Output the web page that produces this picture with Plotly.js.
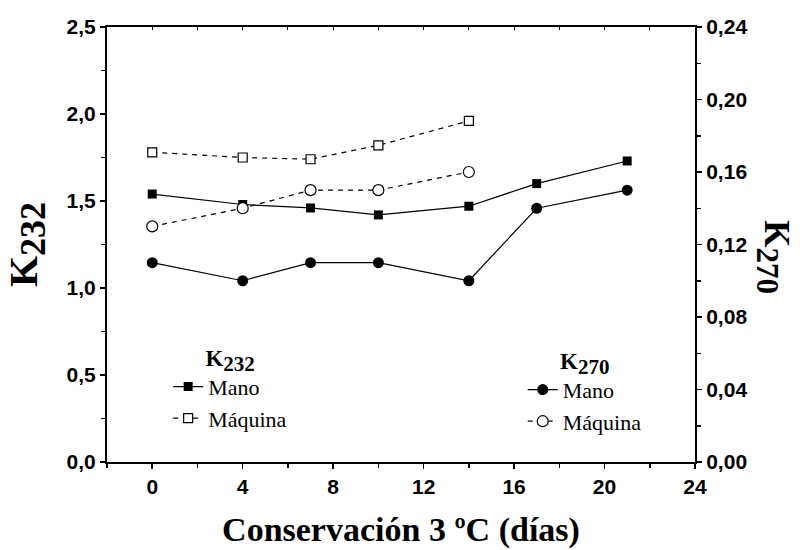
<!DOCTYPE html>
<html>
<head>
<meta charset="utf-8">
<script src="https://cdn.plot.ly/plotly-3.0.1.min.js"></script>
<style>html,body{margin:0;padding:0;background:#fff;}#chart{width:800px;height:550px;}</style>
</head>
<body>
<div id="chart"></div>
<script>
// Data (days of storage at 3 ºC)
const daysMano = [0, 4, 7, 10, 14, 17, 21];
const daysMaquina = [0, 4, 7, 10, 14];
const k232Mano = [1.54, 1.48, 1.46, 1.42, 1.47, 1.60, 1.73];
const k232Maquina = [1.78, 1.75, 1.74, 1.82, 1.96];
const k270Mano = [0.11, 0.10, 0.11, 0.11, 0.10, 0.14, 0.15];
const k270Maquina = [0.13, 0.14, 0.15, 0.15, 0.16];
const seriesNames = ['Mano', 'Máquina'];

const sans = 'Liberation Sans, Arial, sans-serif';
const serif = 'Liberation Serif, Times New Roman, serif';
const tickFont = {family: sans, size: 21, color: '#000', weight: 'bold'};

const traces = [
  {x: daysMano, y: k232Mano, name: seriesNames[0], mode: 'lines+markers', xaxis: 'x', yaxis: 'y', legend: 'legend',
   line: {color: '#000', width: 1.2}, marker: {symbol: 'square', size: 9, color: '#000'}},
  {x: daysMaquina, y: k232Maquina, name: seriesNames[1], mode: 'lines+markers', xaxis: 'x', yaxis: 'y', legend: 'legend',
   line: {color: '#000', width: 1.2, dash: '5px,5px'}, marker: {symbol: 'square', size: 9, color: '#fff', line: {color: '#000', width: 1.2}}},
  {x: daysMano, y: k270Mano, name: seriesNames[0], mode: 'lines+markers', xaxis: 'x', yaxis: 'y2', legend: 'legend2',
   line: {color: '#000', width: 1.2}, marker: {symbol: 'circle', size: 11, color: '#000'}},
  {x: daysMaquina, y: k270Maquina, name: seriesNames[1], mode: 'lines+markers', xaxis: 'x', yaxis: 'y2', legend: 'legend2',
   line: {color: '#000', width: 1.2, dash: '5px,5px'}, marker: {symbol: 'circle', size: 11, color: '#fff', line: {color: '#000', width: 1.2}}},
  {x: [-2, 24], y: [0, 0], xaxis: 'x2', yaxis: 'y', mode: 'lines', line: {width: 0}, showlegend: false, hoverinfo: 'skip'}
];

const legendFont = {family: serif, size: 22, color: '#000'};
const legTitleFont = {family: serif, size: 23, color: '#000', weight: 'bold'};

const layout = {
  width: 800, height: 550,
  margin: {l: 107, r: 105, t: 27, b: 88},
  paper_bgcolor: '#fff', plot_bgcolor: '#fff',
  separators: ', ',
  showlegend: true,
  xaxis: {
    range: [-2, 24], tick0: 0, dtick: 4, ticks: 'outside', ticklen: 5, tickwidth: 1.5, tickcolor: '#000',
    minor: {dtick: 2, tick0: 0, ticks: 'outside', ticklen: 4, tickwidth: 1.5, tickcolor: '#000'},
    showline: true, linecolor: '#000', linewidth: 2, showgrid: false, zeroline: false,
    tickfont: tickFont,
    title: {text: 'Conservación 3 ºC (días)', font: {family: serif, size: 34, color: '#000', weight: 'bold'}, standoff: 20}
  },
  xaxis2: {
    range: [-2, 24], overlaying: 'x', side: 'top', tick0: 0, dtick: 2, ticks: 'inside', ticklen: 3, tickwidth: 1,
    tickcolor: '#000', showticklabels: false, showline: true, linecolor: '#000', linewidth: 2, showgrid: false, zeroline: false
  },
  yaxis: {
    range: [0, 2.5], tick0: 0, dtick: 0.5, tickformat: '.1f', ticks: 'outside', ticklen: 5, tickwidth: 1.5, tickcolor: '#000',
    minor: {dtick: 0.25, tick0: 0, ticks: 'outside', ticklen: 4, tickwidth: 1.5, tickcolor: '#000'},
    showline: true, linecolor: '#000', linewidth: 2, showgrid: false, zeroline: false,
    tickfont: tickFont,
    title: {text: 'K<sub><span style="font-size:36px">232</span></sub>', font: {family: serif, size: 40, color: '#000', weight: 'bold'}, standoff: 17}
  },
  yaxis2: {
    range: [0, 0.24], overlaying: 'y', side: 'right', tick0: 0, dtick: 0.04, tickformat: '.2f',
    ticks: 'outside', ticklen: 5, tickwidth: 1.5, tickcolor: '#000',
    minor: {dtick: 0.02, tick0: 0, ticks: 'outside', ticklen: 4, tickwidth: 1.5, tickcolor: '#000'},
    showline: true, linecolor: '#000', linewidth: 2, showgrid: false, zeroline: false,
    tickfont: tickFont
  },
  legend: {
    x: 0.104, y: 0.29, xanchor: 'left', yanchor: 'top', bgcolor: 'rgba(0,0,0,0)', borderwidth: 0,
    font: legendFont, tracegroupgap: 0,
    title: {text: 'K<sub><span style="font-size:21px">232</span></sub>', side: 'top center', font: legTitleFont}
  },
  legend2: {
    x: 0.707, y: 0.283, xanchor: 'left', yanchor: 'top', bgcolor: 'rgba(0,0,0,0)', borderwidth: 0,
    font: legendFont, tracegroupgap: 0,
    title: {text: 'K<sub><span style="font-size:21px">270</span></sub>', side: 'top center', font: legTitleFont}
  },
  annotations: [
    {text: 'K<sub><span style="font-size:31px">270</span></sub>', xref: 'paper', yref: 'paper', x: 1.133, y: 0.47, textangle: 90, showarrow: false,
     xanchor: 'center', yanchor: 'middle', font: {family: serif, size: 35, color: '#000', weight: 'bold'}}
  ]
};

Plotly.newPlot('chart', traces, layout, {displayModeBar: false, staticPlot: true});
</script>
</body>
</html>
